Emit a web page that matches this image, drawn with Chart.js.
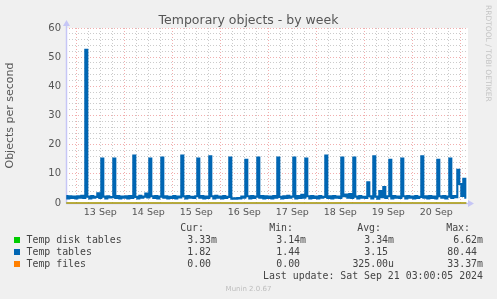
<!DOCTYPE html>
<html>
<head>
<meta charset="utf-8">
<script src="https://cdn.jsdelivr.net/npm/chart.js@4.4.1/dist/chart.umd.min.js"></script>
<style>
  body { margin: 0; background: #f0f0f0; }
  #wrap { position: relative; width: 497px; height: 299px; overflow: hidden; }
  #chart { position: absolute; left: 0; top: 0; }
  .t { position: absolute; white-space: pre; line-height: 12px; transform: translateY(-50%); }
  .mono { font-family: 'DejaVu Sans Mono', monospace; font-size: 9.9px; color: #444; }
  .sq { position: absolute; width: 6px; height: 6px; }
</style>
</head>
<body>
<div id="wrap">
  <canvas id="chart" width="497" height="299"></canvas>
  <div class="t" id="title" style="left:0; width:497px; top:19.5px; text-align:center; font-family:'DejaVu Sans'; font-size:12.5px; color:#555;">Temporary objects - by week</div>
  <div id="rrd" style="position:absolute; left:484px; top:5px; writing-mode:vertical-rl; font-family:'DejaVu Sans'; font-size:7.5px; color:#c4c4c4; line-height:8px;">RRDTOOL / TOBI OETIKER</div>
  <div id="legend"></div>
  <div class="t" style="left:0; width:497px; top:288.5px; text-align:center; font-family:'DejaVu Sans'; font-size:7px; color:#bdbdbd;">Munin 2.0.67</div>
</div>
<script>
/* Data: hourly samples, first one at 12 Sep 19:00 (hour -5 from 13 Sep 00:00) */
let startHour = -5
let dayLabels = ['13 Sep', '14 Sep', '15 Sep', '16 Sep', '17 Sep', '18 Sep', '19 Sep', '20 Sep']
let yLabels = [0, 10, 20, 30, 40, 50, 60]

let tempTables = [
    2.4, 1.6, 2.3, 1.7, 2.2,
    // 13 Sep
    1.6, 2.3, 1.8, 2.5, 1.7, 52.5, 2.2, 1.6, 2.4, 1.8, 2.1, 3.3, 1.7, 15.2, 2.2, 1.6, 2.3, 1.9, 2.0, 15.2, 1.7, 2.4, 1.6, 2.2,
    // 14 Sep
    1.8, 2.3, 1.6, 2.4, 1.7, 16.3, 2.1, 1.6, 2.5, 1.8, 2.2, 3.2, 1.9, 15.2, 2.3, 1.7, 2.4, 1.6, 2.2, 15.6, 1.8, 2.3, 1.6, 2.1,
    // 15 Sep
    1.7, 2.4, 1.6, 2.2, 1.9, 16.3, 2.3, 1.6, 2.4, 1.8, 2.1, 1.7, 2.3, 15.2, 1.8, 2.4, 1.6, 2.2, 1.7, 16.0, 2.3, 1.6, 2.5, 1.8,
    // 16 Sep
    2.2, 1.6, 2.4, 1.7, 2.1, 15.6, 1.5, 1.6, 1.44, 1.7, 1.6, 2.2, 1.8, 14.8, 2.3, 1.6, 2.4, 1.7, 2.2, 15.6, 1.8, 2.4, 1.6, 2.3,
    // 17 Sep
    1.7, 2.2, 1.6, 2.4, 1.8, 15.6, 2.1, 1.6, 2.3, 1.7, 2.5, 1.8, 2.2, 15.6, 1.6, 2.4, 1.7, 2.8, 1.8, 15.2, 2.3, 1.6, 2.4, 1.7,
    // 18 Sep
    2.2, 1.6, 2.4, 1.8, 2.1, 16.3, 1.7, 2.3, 1.6, 2.4, 1.8, 2.2, 1.7, 15.6, 2.3, 2.9, 1.8, 3.1, 1.7, 15.6, 2.2, 1.6, 2.4, 1.8,
    // 19 Sep
    2.1, 1.7, 7.1, 2.3, 1.6, 16.0, 2.2, 1.5, 4.1, 2.0, 5.5, 1.7, 2.3, 14.8, 1.6, 2.4, 1.8, 2.2, 1.7, 15.2, 2.3, 1.6, 2.4, 1.8,
    // 20 Sep
    2.2, 1.6, 2.4, 1.7, 2.1, 16.0, 1.8, 2.3, 1.6, 2.4, 1.7, 2.2, 1.6, 14.8, 2.3, 1.8, 2.4, 1.6, 2.2, 15.2, 1.7, 2.4, 2.0, 11.4,
    // 21 Sep
    6.5, 2.4, 8.3, 1.82
]

// the two small series, one sample per day
let coarseHours = [-5, 24, 48, 72, 96, 120, 144, 168, 195]
let tempDiskTables = [0.00334, 0.00331, 0.00314, 0.00662, 0.00335, 0.00330, 0.00338, 0.00336, 0.00333]
let tempFiles = [0, 0, 0, 0, 0, 0, 0.03337, 0, 0]

/* Legend table */
let seriesNames = ['Temp disk tables', 'Temp tables', 'Temp files']
let seriesColors = ['#00cc00', '#0066b3', '#ff8000']
let curValues = ['3.33m', '1.82 ', '0.00 ']
let minValues = ['3.14m', '1.44 ', '0.00 ']
let avgValues = ['3.34m', '3.15 ', '325.00u']
let maxValues = ['6.62m', '80.44 ', '33.37m']
let lastUpdate = 'Last update: Sat Sep 21 03:00:05 2024'

let hours = tempTables.map((v, i) => startHour + i)

// grid positions: every 6 hours and every 2 units
let xGrid = []
for (let h = 0; h <= 192; h += 6) xGrid.push(h)
let yGrid = []
for (let v = 0; v <= 60; v += 2) yGrid.push(v)

let majorColor = 'rgba(232, 120, 120, 0.6)'
let minorColor = 'rgba(185, 185, 185, 0.75)'
let tickFont = { family: 'DejaVu Sans', size: 9.5 }

// White plot area and the axis lines with arrows
let framePlugin = {
    id: 'frame',
    beforeDraw(chart) {
        let { ctx, chartArea: a } = chart
        ctx.save()
        ctx.fillStyle = '#ffffff'
        ctx.fillRect(a.left, a.top, a.right - a.left, a.bottom - a.top)
        ctx.restore()
    },
    beforeDatasetsDraw(chart) {
        let { ctx, chartArea: a } = chart
        ctx.save()
        ctx.strokeStyle = '#c6c6f6'
        ctx.fillStyle = '#c6c6f6'
        ctx.lineWidth = 1.5
        ctx.beginPath()
        ctx.moveTo(a.left + 0.5, a.bottom + 0.5)
        ctx.lineTo(a.left + 0.5, a.top - 3)
        ctx.moveTo(a.left, a.bottom + 0.5)
        ctx.lineTo(a.right + 1, a.bottom + 0.5)
        ctx.stroke()
        ctx.beginPath()
        ctx.moveTo(a.left - 3, a.top - 2)
        ctx.lineTo(a.left + 4, a.top - 2)
        ctx.lineTo(a.left + 0.5, a.top - 8)
        ctx.closePath()
        ctx.fill()
        ctx.beginPath()
        ctx.moveTo(a.right, a.bottom - 3)
        ctx.lineTo(a.right, a.bottom + 4)
        ctx.lineTo(a.right + 6, a.bottom + 0.5)
        ctx.closePath()
        ctx.fill()
        ctx.restore()
    }
}

let ctx = document.querySelector('#chart').getContext('2d')

let chart = new Chart(ctx, {
    type: 'line',
    data: {
        datasets: [
            {
                label: seriesNames[0],
                data: coarseHours.map((h, i) => ({ x: h, y: tempDiskTables[i] })),
                borderColor: seriesColors[0],
                borderWidth: 1,
                pointRadius: 0,
                clip: false,
                order: 2
            },
            {
                label: seriesNames[1],
                data: hours.map((h, i) => ({ x: h, y: tempTables[i] })),
                borderColor: seriesColors[1],
                borderWidth: 2.1,
                pointRadius: 0,
                stepped: 'middle',
                order: 1
            },
            {
                label: seriesNames[2],
                data: coarseHours.map((h, i) => ({ x: h, y: tempFiles[i] })),
                borderColor: seriesColors[2],
                borderWidth: 1,
                pointRadius: 0,
                clip: false,
                order: 0
            }
        ]
    },
    options: {
        responsive: false,
        animation: false,
        layout: { padding: { top: 28, right: 29, left: 0, bottom: 0 } },
        plugins: { legend: { display: false }, tooltip: { enabled: false } },
        scales: {
            x: {
                type: 'linear',
                min: -5.15,
                max: 195.85,
                afterFit(s) { s.height = 96 },
                afterBuildTicks(s) { s.ticks = xGrid.map(v => ({ value: v })) },
                ticks: {
                    autoSkip: false,
                    maxRotation: 0,
                    padding: 4,
                    color: '#555',
                    font: tickFont,
                    callback: v => (v % 24 === 12 ? dayLabels[(v - 12) / 24] : '')
                },
                grid: {
                    drawTicks: false,
                    color: c => (c.tick && c.tick.value % 24 === 0 ? majorColor : minorColor)
                },
                border: { display: false, dash: [1, 2] }
            },
            y: {
                min: 0,
                max: 60,
                afterFit(s) { s.width = 66 },
                afterBuildTicks(s) { s.ticks = yGrid.map(v => ({ value: v })) },
                ticks: {
                    autoSkip: false,
                    padding: 5,
                    color: '#555',
                    font: { family: 'DejaVu Sans', size: 10 },
                    callback: v => (yLabels.includes(v) ? String(v) : '')
                },
                grid: {
                    drawTicks: false,
                    color: c => (c.tick && c.tick.value % 10 === 0 ? majorColor : minorColor)
                },
                border: { display: false, dash: [1, 2] },
                title: {
                    display: true,
                    text: 'Objects per second',
                    color: '#555',
                    font: { family: 'DejaVu Sans', size: 11 },
                    padding: { top: 4, bottom: 0 }
                }
            }
        }
    },
    plugins: [framePlugin]
})

/* Legend below the chart, in munin's monospace layout */
let legend = document.querySelector('#legend')

function addText(text, right, y) {
    let el = document.createElement('div')
    el.className = 't mono'
    el.style.left = (right - 300) + 'px'
    el.style.width = '300px'
    el.style.textAlign = 'right'
    el.style.top = y + 'px'
    el.textContent = text
    legend.appendChild(el)
}

let headerY = 227.5
let rowY = [239.5, 251.5, 263.5]
let colRight = [217, 306, 394, 483]

addText('Cur:', 204, headerY)
addText('Min:', 293, headerY)
addText('Avg:', 381, headerY)
addText('Max:', 470, headerY)

seriesNames.forEach((name, i) => {
    let sq = document.createElement('div')
    sq.className = 'sq'
    sq.style.left = '14px'
    sq.style.top = (rowY[i] - 3) + 'px'
    sq.style.background = seriesColors[i]
    legend.appendChild(sq)

    let label = document.createElement('div')
    label.className = 't mono'
    label.style.left = '26.5px'
    label.style.top = rowY[i] + 'px'
    label.textContent = name
    legend.appendChild(label)

    addText(curValues[i], colRight[0], rowY[i])
    addText(minValues[i], colRight[1], rowY[i])
    addText(avgValues[i], colRight[2], rowY[i])
    addText(maxValues[i], colRight[3], rowY[i])
})

addText(lastUpdate, 483, 275.5)
</script>
</body>
</html>
